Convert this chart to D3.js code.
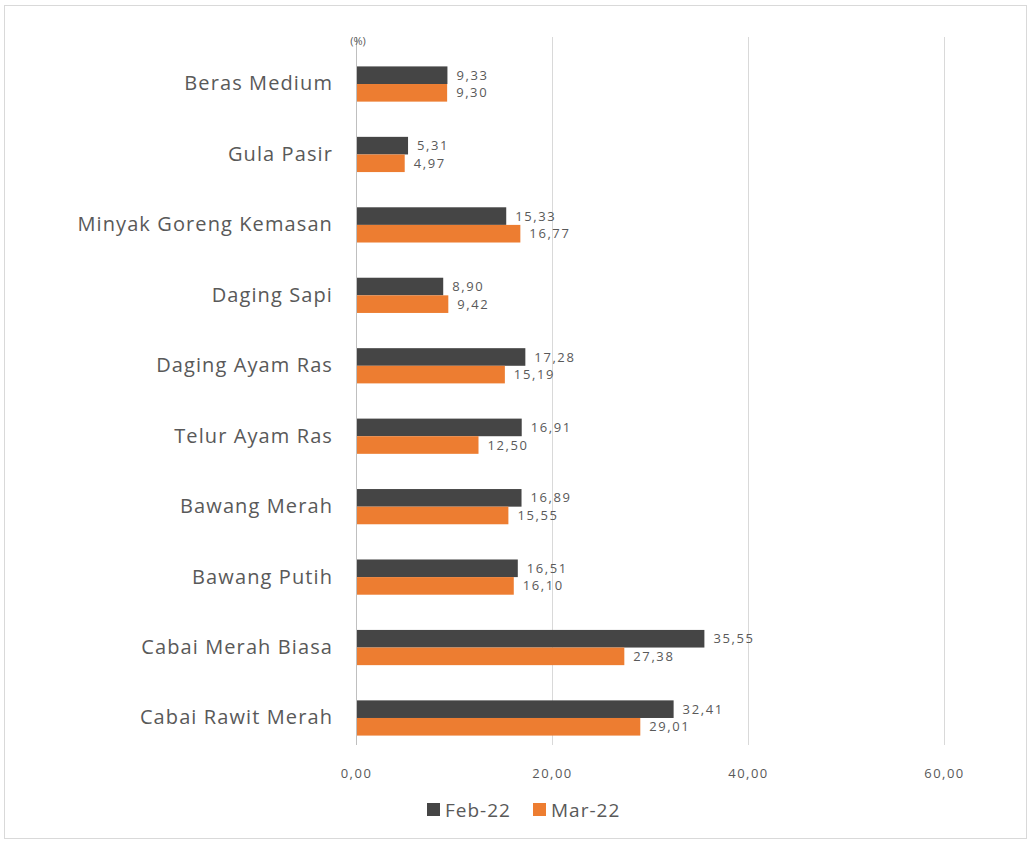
<!DOCTYPE html>
<html>
<head>
<meta charset="utf-8">
<script src="https://cdn.jsdelivr.net/npm/d3@7"></script>
<style>
  html, body { margin: 0; padding: 0; background: #fff; }
  svg { display: block; font-family: "Open Sans", "Noto Sans", sans-serif; }
</style>
</head>
<body>
<svg id="chart" width="1030" height="841"></svg>
<script>
// Commodity categories, top to bottom
const categories = [
  "Beras Medium", "Gula Pasir", "Minyak Goreng Kemasan", "Daging Sapi",
  "Daging Ayam Ras", "Telur Ayam Ras", "Bawang Merah", "Bawang Putih",
  "Cabai Merah Biasa", "Cabai Rawit Merah"
];
// Series values (%)
const feb22 = [9.33, 5.31, 15.33, 8.90, 17.28, 16.91, 16.89, 16.51, 35.55, 32.41];
const mar22 = [9.30, 4.97, 16.77, 9.42, 15.19, 12.50, 15.55, 16.10, 27.38, 29.01];
const seriesNames = ["Feb-22", "Mar-22"];
const xTicks = [0, 20, 40, 60];

const colors = { "Feb-22": "#454545", "Mar-22": "#ED7D31" };
const textColor = "#595959";

const svg = d3.select("#chart");

// Outer frame
svg.append("rect")
  .attr("x", 4.5).attr("y", 5.5)
  .attr("width", 1022).attr("height", 833)
  .attr("fill", "#fff").attr("stroke", "#d9d9d9").attr("stroke-width", 1);

const x = d3.scaleLinear().domain([0, 60]).range([356, 944]);
const y = d3.scaleBand().domain(categories).range([48.8, 753.2])
  .paddingInner(0.5).paddingOuter(0.25);
const ySub = d3.scaleBand().domain(seriesNames).range([0, y.bandwidth()]);

const gridTop = 37, gridBottom = 745;
const fmt = v => d3.format(".2f")(v).replace(".", ",");

// Vertical gridlines
svg.append("g").selectAll("line").data(xTicks.filter(t => t > 0)).join("line")
  .attr("x1", d => x(d) + 0.5).attr("x2", d => x(d) + 0.5)
  .attr("y1", gridTop).attr("y2", gridBottom)
  .attr("stroke", "#d9d9d9").attr("stroke-width", 1);

// Category axis line at zero
svg.append("line")
  .attr("x1", x(0) + 0.5).attr("x2", x(0) + 0.5)
  .attr("y1", gridTop).attr("y2", gridBottom)
  .attr("stroke", "#bfbfbf").attr("stroke-width", 1);

// Value axis tick labels
const xAxis = d3.axisBottom(x).tickValues(xTicks).tickFormat(fmt).tickSize(0).tickPadding(0);
const gx = svg.append("g").attr("transform", `translate(0, 778)`).call(xAxis);
gx.select(".domain").remove();
gx.selectAll("text")
  .attr("fill", textColor).attr("font-size", 13).attr("dy", 0)
  .attr("letter-spacing", 1.5)
  .attr("font-family", "\"Open Sans\", sans-serif");

// Unit label
svg.append("text").attr("x", x(0) + 2).attr("y", 45)
  .attr("text-anchor", "middle").attr("font-size", 11).attr("fill", textColor)
  .text("(%)");

// Category labels
const yAxis = d3.axisLeft(y).tickSize(0).tickPadding(23);
const gy = svg.append("g").attr("transform", `translate(${x(0)}, 0)`).call(yAxis);
gy.select(".domain").remove();
gy.selectAll("text")
  .attr("fill", textColor).attr("font-size", 20)
  .attr("letter-spacing", 1.1)
  .attr("font-family", "\"Open Sans\", sans-serif");

// Bars and value labels
const rows = categories.map((c, i) => ({ cat: c, values: [
  { key: "Feb-22", v: feb22[i] }, { key: "Mar-22", v: mar22[i] }
]}));

const groups = svg.append("g").selectAll("g").data(rows).join("g")
  .attr("transform", d => `translate(0, ${y(d.cat)})`);

groups.selectAll("rect").data(d => d.values).join("rect")
  .attr("x", x(0) + 1)
  .attr("y", d => ySub(d.key))
  .attr("width", d => x(d.v) - x(0) - 1)
  .attr("height", ySub.bandwidth())
  .attr("fill", d => colors[d.key]);

groups.selectAll("text").data(d => d.values).join("text")
  .attr("x", d => x(d.v) + 9)
  .attr("y", d => ySub(d.key) + ySub.bandwidth() / 2)
  .attr("dy", "0.35em")
  .attr("font-size", 13).attr("letter-spacing", 1.6).attr("fill", textColor)
  .text(d => fmt(d.v));

// Legend
const legend = svg.append("g").attr("transform", "translate(427, 810)");
const items = legend.selectAll("g").data(seriesNames).join("g")
  .attr("transform", (d, i) => `translate(${i * 106}, 0)`);
items.append("rect").attr("x", 0).attr("y", -7).attr("width", 13).attr("height", 13)
  .attr("fill", d => colors[d]);
items.append("text").attr("x", 18).attr("y", 0).attr("dy", "0.35em")
  .attr("font-size", 19).attr("letter-spacing", 1).attr("fill", textColor).text(d => d);
</script>
</body>
</html>
